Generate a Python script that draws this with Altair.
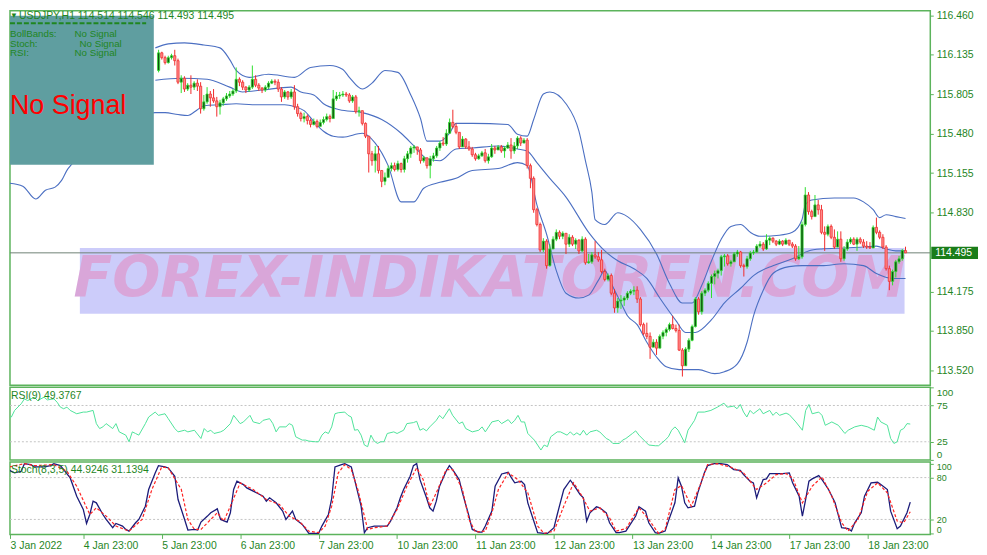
import altair as alt
import pandas as pd

# ---------------- data ----------------
SYMBOL = "USDJPY,H1"
FIRST_BAR = 46          # first candle not hidden by the info box (bar 0 = 3 Jan 23:00)
FIRST_OPEN = 116.005

close = [
    116.151, 116.111, 116.070, 116.111, 116.127, 116.086, 115.908, 115.940, 115.851, 115.883,
    115.867, 115.900, 115.875, 115.688, 115.745, 115.810, 115.778, 115.753, 115.705, 115.737,
    115.770, 115.794, 115.810, 115.835, 115.932, 115.908, 115.867, 115.843, 115.867, 115.932,
    115.883, 115.859, 115.843, 115.867, 115.900, 115.916, 115.908, 115.851, 115.786, 115.827,
    115.786, 115.827, 115.705, 115.648, 115.607, 115.623, 115.591, 115.558, 115.583, 115.542,
    115.575, 115.599, 115.623, 115.607, 115.770, 115.794, 115.802, 115.810, 115.802, 115.753,
    115.786, 115.664, 115.672, 115.567, 115.461, 115.315, 115.258, 115.315, 115.177, 115.087,
    115.120, 115.193, 115.217, 115.185, 115.234, 115.185, 115.274, 115.315, 115.363, 115.372,
    115.347, 115.258, 115.282, 115.217, 115.274, 115.298, 115.363, 115.404, 115.396, 115.485,
    115.575, 115.542, 115.493, 115.372, 115.437, 115.372, 115.355, 115.307, 115.274, 115.298,
    115.323, 115.258, 115.290, 115.363, 115.347, 115.372, 115.339, 115.363, 115.388, 115.339,
    115.380, 115.445, 115.404, 115.428, 115.217, 115.112, 114.852, 114.730, 114.519, 114.592,
    114.389, 114.527, 114.608, 114.665, 114.632, 114.657, 114.567, 114.624, 114.567, 114.600,
    114.511, 114.608, 114.413, 114.421, 114.478, 114.462, 114.437, 114.340, 114.275, 114.307,
    114.161, 114.039, 114.096, 114.104, 114.121, 114.161, 114.178, 114.186, 114.113, 113.901,
    113.828, 113.804, 113.714, 113.755, 113.706, 113.804, 113.836, 113.861, 113.901, 113.869,
    113.853, 113.690, 113.560, 113.698, 113.771, 113.885, 114.113, 114.007, 114.161, 114.186,
    114.242, 114.299, 114.324, 114.348, 114.462, 114.470, 114.405, 114.421, 114.486, 114.502,
    114.389, 114.381, 114.446, 114.494, 114.502, 114.551, 114.567, 114.527, 114.600, 114.616,
    114.592, 114.567, 114.592, 114.567, 114.600, 114.567, 114.551, 114.446, 114.462, 114.730,
    114.974, 114.836, 114.795, 114.892, 114.852, 114.665, 114.649, 114.714, 114.624, 114.543,
    114.608, 114.446, 114.527, 114.584, 114.608, 114.567, 114.608, 114.584, 114.551, 114.543,
    114.535, 114.706, 114.665, 114.624, 114.543, 114.364, 114.259, 114.340, 114.421, 114.446,
    114.514, 114.495,
]
high = [
    116.176, 116.160, 116.127, 116.127, 116.143, 116.176, 116.103, 115.965, 115.957, 115.900,
    115.965, 115.916, 115.932, 115.908, 115.802, 115.867, 115.835, 115.851, 115.786, 115.762,
    115.786, 115.818, 115.835, 115.851, 116.030, 115.948, 115.924, 115.875, 115.883, 116.046,
    115.965, 115.900, 115.867, 115.883, 115.916, 115.932, 115.932, 115.932, 115.867, 115.843,
    115.835, 115.851, 115.883, 115.729, 115.664, 115.656, 115.640, 115.607, 115.607, 115.599,
    115.599, 115.623, 115.648, 115.640, 115.843, 115.827, 115.827, 115.835, 115.827, 115.818,
    115.802, 115.802, 115.705, 115.672, 115.575, 115.461, 115.339, 115.380, 115.380, 115.177,
    115.160, 115.217, 115.242, 115.242, 115.258, 115.242, 115.298, 115.339, 115.380, 115.388,
    115.372, 115.363, 115.298, 115.282, 115.298, 115.323, 115.380, 115.420, 115.453, 115.518,
    115.607, 115.680, 115.567, 115.477, 115.461, 115.445, 115.420, 115.372, 115.323, 115.315,
    115.339, 115.355, 115.315, 115.396, 115.380, 115.388, 115.388, 115.380, 115.412, 115.445,
    115.412, 115.461, 115.461, 115.445, 115.445, 115.234, 115.128, 114.868, 114.746, 114.616,
    114.608, 114.567, 114.632, 114.689, 114.681, 114.673, 114.649, 114.649, 114.641, 114.616,
    114.608, 114.632, 114.624, 114.486, 114.502, 114.592, 114.502, 114.519, 114.364, 114.324,
    114.324, 114.194, 114.121, 114.145, 114.137, 114.178, 114.194, 114.218, 114.218, 114.129,
    113.917, 113.917, 113.836, 113.780, 113.780, 113.820, 113.853, 113.877, 113.917, 113.974,
    113.901, 113.901, 113.706, 113.714, 113.788, 113.901, 114.129, 114.129, 114.178, 114.202,
    114.259, 114.316, 114.348, 114.364, 114.478, 114.486, 114.486, 114.437, 114.502, 114.519,
    114.511, 114.405, 114.470, 114.511, 114.519, 114.567, 114.592, 114.584, 114.649, 114.632,
    114.624, 114.600, 114.608, 114.600, 114.616, 114.600, 114.584, 114.567, 114.551, 114.754,
    115.039, 114.998, 114.852, 114.974, 114.933, 114.892, 114.714, 114.730, 114.730, 114.689,
    114.673, 114.673, 114.551, 114.608, 114.624, 114.624, 114.624, 114.624, 114.608, 114.592,
    114.584, 114.722, 114.787, 114.681, 114.649, 114.559, 114.389, 114.356, 114.437, 114.470,
    114.527, 114.546,
]
low = [
    115.989, 116.095, 116.054, 116.062, 116.095, 116.046, 115.892, 115.818, 115.827, 115.835,
    115.810, 115.843, 115.835, 115.648, 115.672, 115.729, 115.705, 115.737, 115.623, 115.640,
    115.713, 115.753, 115.778, 115.794, 115.818, 115.875, 115.843, 115.818, 115.827, 115.851,
    115.867, 115.835, 115.818, 115.827, 115.851, 115.892, 115.883, 115.827, 115.745, 115.770,
    115.762, 115.770, 115.680, 115.623, 115.583, 115.575, 115.558, 115.534, 115.550, 115.526,
    115.542, 115.558, 115.583, 115.575, 115.607, 115.753, 115.770, 115.786, 115.786, 115.737,
    115.737, 115.648, 115.623, 115.550, 115.445, 115.160, 115.217, 115.160, 115.152, 115.039,
    115.055, 115.136, 115.169, 115.169, 115.169, 115.160, 115.160, 115.242, 115.282, 115.323,
    115.307, 115.234, 115.242, 115.193, 115.112, 115.250, 115.282, 115.339, 115.380, 115.380,
    115.485, 115.526, 115.477, 115.355, 115.372, 115.355, 115.339, 115.290, 115.258, 115.266,
    115.290, 115.242, 115.234, 115.282, 115.315, 115.347, 115.323, 115.282, 115.355, 115.274,
    115.315, 115.355, 115.380, 115.404, 115.193, 115.030, 114.827, 114.714, 114.502, 114.502,
    114.364, 114.381, 114.527, 114.592, 114.608, 114.608, 114.486, 114.543, 114.551, 114.527,
    114.486, 114.502, 114.397, 114.405, 114.405, 114.446, 114.421, 114.324, 114.259, 114.259,
    114.145, 113.999, 113.999, 114.031, 114.056, 114.104, 114.145, 114.145, 114.080, 113.885,
    113.812, 113.780, 113.617, 113.714, 113.650, 113.706, 113.780, 113.804, 113.845, 113.861,
    113.836, 113.682, 113.471, 113.576, 113.674, 113.763, 113.877, 113.983, 113.983, 114.137,
    114.169, 114.121, 114.234, 114.283, 114.307, 114.381, 114.389, 114.381, 114.421, 114.462,
    114.372, 114.299, 114.364, 114.429, 114.478, 114.494, 114.535, 114.511, 114.519, 114.559,
    114.576, 114.551, 114.559, 114.551, 114.567, 114.551, 114.535, 114.429, 114.437, 114.446,
    114.714, 114.811, 114.771, 114.795, 114.811, 114.649, 114.511, 114.632, 114.608, 114.527,
    114.584, 114.421, 114.429, 114.511, 114.567, 114.559, 114.511, 114.567, 114.535, 114.527,
    114.527, 114.543, 114.649, 114.608, 114.527, 114.348, 114.186, 114.226, 114.291, 114.405,
    114.429, 114.493,
]

upper_band = [
    (45, 116.192), (49, 116.225), (54, 116.233), (60, 116.216), (65, 116.192), (68, 116.095),
    (70, 116.005), (74, 115.948), (80, 115.973), (88, 115.948), (93, 116.030), (99, 116.046),
    (103, 116.013), (105, 115.948), (109, 115.851), (112, 115.900), (116, 116.005), (120, 115.989),
    (124, 115.802), (127, 115.607), (129, 115.420), (133, 115.420), (136, 115.485), (138, 115.567),
    (143, 115.567), (154, 115.558), (157, 115.477), (160, 115.461), (162, 115.599), (165, 115.810),
    (167, 115.827), (172, 115.729), (176, 115.502), (178, 115.258), (180, 114.998), (181, 114.771),
    (184, 114.730), (188, 114.827), (191, 114.795), (195, 114.689), (200, 114.486), (204, 114.242),
    (208, 114.080), (211, 114.080), (214, 114.226), (217, 114.429), (220, 114.608), (223, 114.714),
    (226, 114.730), (229, 114.665), (232, 114.632), (238, 114.641), (242, 114.665), (245, 114.771),
    (246, 114.892), (248, 114.933), (255, 114.949), (261, 114.949), (264, 114.917), (267, 114.852),
    (269, 114.787), (271, 114.811), (274, 114.795), (277, 114.779),
]
middle_band = [
    (45, 115.924), (53, 115.940), (61, 115.932), (68, 115.867), (72, 115.827), (78, 115.843),
    (87, 115.867), (90, 115.827), (94, 115.802), (97, 115.729), (102, 115.680), (109, 115.656),
    (115, 115.599), (121, 115.485), (125, 115.380), (129, 115.274), (133, 115.258), (138, 115.355),
    (143, 115.363), (151, 115.380), (157, 115.355), (160, 115.339), (163, 115.242), (167, 115.112),
    (172, 114.957), (179, 114.665), (184, 114.511), (188, 114.429), (193, 114.364), (197, 114.283),
    (201, 114.121), (206, 113.934), (209, 113.836), (212, 113.836), (217, 113.942), (221, 114.080),
    (226, 114.202), (230, 114.307), (236, 114.389), (242, 114.446), (247, 114.511), (251, 114.527),
    (258, 114.535), (264, 114.543), (268, 114.551), (271, 114.527), (274, 114.511), (277, 114.511),
]
lower_band = [
    (0, 115.071), (4, 115.047), (8, 114.941), (11, 115.014), (14, 115.039), (16, 115.095),
    (18, 115.193), (45, 115.656), (48, 115.656), (52, 115.640), (55, 115.632), (58, 115.680),
    (60, 115.713), (65, 115.721), (70, 115.729), (75, 115.721), (80, 115.721), (85, 115.721),
    (88, 115.705), (91, 115.672), (94, 115.583), (97, 115.502), (100, 115.461), (103, 115.453),
    (109, 115.485), (113, 115.404), (117, 115.217), (121, 114.917), (125, 114.917), (128, 115.030),
    (133, 115.079), (138, 115.112), (143, 115.177), (151, 115.193), (157, 115.242), (160, 115.217),
    (163, 114.892), (166, 114.649), (169, 114.348), (172, 114.161), (176, 114.121), (179, 114.145),
    (182, 114.267), (184, 114.348), (186, 114.242), (189, 114.080), (191, 113.974), (194, 113.901),
    (197, 113.755), (200, 113.633), (203, 113.552), (207, 113.528), (213, 113.528), (218, 113.495),
    (221, 113.511), (225, 113.576), (228, 113.755), (230, 113.974), (233, 114.186), (236, 114.324),
    (241, 114.381), (245, 114.389), (251, 114.389), (258, 114.405), (264, 114.389), (268, 114.324),
    (273, 114.283), (277, 114.283),
]

rsi_points = [
    (0, 56.8), (2, 59.1), (3, 68.2), (5, 77.3), (6, 84.1), (7, 81.8), (9, 86.4), (10, 81.8), (12, 86.4), (13, 82.7),
    (15, 84.1), (16, 79.5), (17, 72.7), (18, 70.5), (19, 72.7), (20, 68.2), (22, 63.6), (24, 65.9), (25, 65.9), (27, 68.2),
    (28, 50.0), (29, 43.2), (30, 45.5), (31, 50.0), (33, 43.2), (34, 50.0), (35, 38.6), (37, 34.1), (38, 25.0), (39, 38.6),
    (40, 36.4), (41, 34.1), (43, 50.0), (44, 59.1), (46, 65.9), (47, 61.4), (49, 63.6), (50, 56.8), (52, 43.2), (53, 38.6),
    (55, 40.9), (56, 38.6), (58, 40.9), (60, 29.5), (61, 43.2), (62, 38.6), (63, 40.9), (64, 36.4), (66, 38.6), (67, 40.9),
    (69, 50.0), (70, 61.4), (72, 50.0), (73, 52.3), (75, 61.4), (76, 52.3), (78, 50.0), (79, 54.5), (81, 56.8), (82, 50.0),
    (83, 38.6), (84, 45.5), (86, 45.5), (87, 50.0), (88, 47.7), (89, 31.8), (91, 27.3), (92, 27.3), (93, 25.9), (95, 25.0),
    (96, 25.0), (97, 34.1), (98, 38.6), (99, 36.4), (100, 45.5), (101, 63.6), (102, 65.0), (104, 65.9), (105, 61.4), (106, 59.1),
    (107, 40.9), (108, 41.8), (109, 34.1), (110, 20.5), (111, 18.2), (112, 34.1), (113, 25.9), (114, 22.7), (115, 25.0), (116, 25.0),
    (117, 36.4), (119, 38.6), (120, 36.4), (122, 40.9), (123, 50.0), (125, 51.4), (126, 53.2), (127, 40.9), (128, 43.2), (129, 40.0),
    (130, 45.5), (132, 54.5), (133, 61.4), (134, 56.8), (136, 70.5), (137, 61.4), (139, 50.0), (140, 52.3), (141, 43.2), (143, 38.6),
    (145, 40.9), (146, 45.5), (147, 38.6), (149, 52.3), (151, 54.5), (152, 50.0), (154, 55.5), (155, 50.0), (156, 54.5), (157, 61.4),
    (158, 52.3), (159, 52.3), (160, 36.4), (162, 27.3), (163, 20.5), (164, 13.6), (165, 20.5), (166, 18.2), (167, 31.8), (169, 38.6),
    (170, 38.6), (172, 34.1), (173, 38.6), (174, 34.1), (175, 37.3), (176, 34.1), (177, 40.9), (178, 34.1), (179, 38.6), (181, 40.9),
    (182, 38.6), (184, 29.5), (185, 27.3), (186, 22.7), (188, 22.7), (189, 27.3), (190, 29.5), (192, 36.4), (193, 40.0), (194, 34.1),
    (196, 25.0), (197, 20.5), (199, 19.5), (200, 19.5), (202, 27.3), (203, 31.8), (204, 40.9), (205, 45.5), (206, 40.9), (208, 23.6),
    (209, 40.9), (211, 54.5), (212, 65.9), (214, 65.9), (216, 68.2), (218, 72.7), (220, 78.2), (221, 72.7), (223, 74.1), (224, 70.5),
    (225, 76.4), (226, 65.9), (227, 59.1), (228, 68.2), (229, 63.6), (231, 70.5), (232, 63.6), (234, 68.2), (235, 61.4), (236, 65.9),
    (237, 61.4), (239, 64.5), (240, 62.3), (242, 52.3), (244, 40.9), (245, 68.2), (246, 76.4), (247, 63.6), (249, 65.9), (250, 61.4),
    (251, 47.7), (253, 52.3), (255, 47.7), (257, 36.4), (258, 40.9), (260, 45.5), (262, 47.7), (264, 45.5), (266, 40.9), (267, 59.1),
    (268, 52.3), (270, 47.7), (271, 29.5), (272, 22.7), (273, 25.0), (274, 40.9), (275, 43.2), (276, 50.0), (277, 49.4),
]
stoch_main = [
    (0, 93.8), (2, 89.0), (3, 86.7), (5, 89.0), (6, 100.0), (8, 98.6), (9, 95.2), (11, 95.2), (12, 95.2), (14, 97.1),
    (15, 100.0), (17, 97.1), (18, 91.4), (20, 79.5), (22, 53.3), (24, 34.3), (25, 14.3), (26, 27.1), (27, 46.2), (28, 43.8),
    (30, 27.1), (31, 20.0), (33, 8.1), (34, 14.3), (36, 10.5), (37, 5.7), (38, 3.3), (40, 15.2), (41, 20.0), (43, 39.0),
    (44, 62.9), (46, 86.7), (47, 97.1), (49, 95.2), (50, 93.8), (52, 81.9), (53, 48.6), (55, 20.0), (56, 4.8), (58, 5.7),
    (59, 4.8), (60, 16.2), (62, 24.8), (63, 29.5), (65, 35.2), (66, 20.0), (68, 16.2), (69, 29.5), (70, 62.9), (71, 74.8),
    (73, 70.0), (74, 65.2), (76, 60.5), (78, 55.7), (79, 53.3), (80, 46.2), (81, 51.0), (83, 43.8), (85, 31.9), (86, 20.0),
    (88, 31.9), (89, 20.0), (91, 12.9), (93, 0.0), (94, 0.0), (96, 0.0), (97, 10.5), (99, 27.1), (100, 50.0), (101, 95.2),
    (103, 98.6), (104, 100.0), (106, 95.2), (107, 77.1), (109, 39.0), (110, 1.0), (111, 8.1), (113, 10.5), (117, 10.5), (118, 17.6),
    (120, 36.7), (121, 51.0), (122, 62.9), (124, 81.9), (125, 97.1), (126, 100.0), (127, 77.1), (129, 51.0), (130, 36.7), (131, 31.9),
    (132, 46.2), (133, 67.6), (135, 89.0), (136, 97.1), (137, 91.4), (139, 77.1), (140, 58.1), (142, 24.8), (143, 5.7), (145, 1.9),
    (146, 1.9), (147, 10.5), (149, 31.9), (150, 67.6), (152, 85.2), (154, 87.6), (155, 79.5), (156, 72.4), (158, 74.8), (159, 70.0),
    (160, 43.8), (162, 15.2), (163, 1.0), (165, 0.0), (166, 0.0), (168, 8.1), (169, 27.1), (171, 62.9), (173, 76.2), (174, 70.0),
    (176, 55.7), (177, 51.0), (178, 17.6), (179, 29.5), (181, 38.1), (182, 36.7), (184, 29.5), (185, 15.2), (187, 1.0), (188, 1.0),
    (190, 3.3), (191, 10.5), (193, 24.8), (194, 38.1), (196, 31.9), (197, 15.2), (199, 1.0), (200, 0.0), (202, 3.3), (203, 17.6),
    (205, 43.8), (206, 79.5), (207, 67.6), (208, 43.8), (209, 36.7), (211, 39.0), (212, 58.1), (214, 86.7), (215, 97.1), (217, 100.0),
    (219, 100.0), (221, 98.6), (223, 91.4), (225, 90.5), (226, 84.3), (228, 74.8), (229, 72.4), (230, 51.0), (231, 65.2), (232, 77.1),
    (233, 78.1), (234, 85.7), (236, 85.7), (238, 85.7), (240, 86.7), (241, 72.4), (243, 53.3), (244, 24.8), (245, 48.6), (246, 74.8),
    (247, 78.1), (249, 82.9), (250, 77.1), (252, 62.9), (254, 43.8), (256, 8.1), (258, 6.7), (259, 3.3), (260, 15.2), (262, 29.5),
    (263, 53.3), (265, 72.4), (267, 73.3), (268, 70.0), (270, 62.9), (271, 31.9), (273, 6.7), (274, 10.5), (276, 29.5), (277, 44.9),
]
stoch_signal = [
    (0, 93.8), (6, 100.0), (9, 97.1), (15, 98.6), (19, 89.0), (22, 67.6), (26, 27.1), (28, 36.7), (31, 24.8), (34, 10.5),
    (38, 3.3), (42, 20.0), (45, 62.9), (48, 95.2), (50, 93.8), (54, 62.9), (56, 20.0), (58, 5.7), (60, 5.7), (63, 20.0),
    (65, 29.5), (67, 17.6), (69, 39.0), (72, 72.4), (76, 62.9), (80, 48.6), (84, 41.4), (87, 24.8), (90, 17.6), (93, 3.3),
    (96, 1.0), (98, 10.5), (100, 39.0), (102, 86.7), (104, 98.6), (106, 91.4), (108, 62.9), (110, 24.8), (111, 5.7), (113, 8.1),
    (117, 10.5), (120, 34.3), (123, 67.6), (126, 93.8), (128, 77.1), (130, 39.0), (132, 58.1), (135, 91.4), (137, 91.4), (140, 62.9),
    (142, 20.0), (144, 1.9), (147, 3.3), (149, 29.5), (151, 62.9), (154, 86.7), (157, 77.1), (160, 58.1), (163, 10.5), (165, 0.0),
    (168, 3.3), (171, 39.0), (174, 72.4), (176, 58.1), (179, 31.9), (182, 36.7), (185, 22.4), (187, 3.3), (190, 6.7), (194, 36.7),
    (197, 20.0), (200, 0.0), (202, 5.7), (205, 62.9), (207, 68.6), (210, 39.0), (213, 72.4), (215, 98.6), (218, 100.0), (222, 95.2),
    (226, 86.7), (230, 62.9), (233, 72.4), (236, 84.3), (239, 85.7), (241, 79.5), (244, 43.8), (247, 67.6), (250, 81.0), (253, 53.3),
    (256, 15.2), (258, 3.3), (261, 20.0), (264, 60.5), (267, 72.4), (270, 58.1), (273, 17.6), (275, 15.2), (277, 31.1),
]

rsi_header_value = 49.3767
stoch_header_values = (44.9246, 31.1394)
last_price = 114.495
price_ticks = [116.460, 116.135, 115.805, 115.480, 115.155, 114.830, 114.175, 113.850, 113.520]
rsi_ticks = [0, 25, 75, 100]
rsi_levels = [25, 75]
stoch_ticks = [0, 20, 80, 100]
stoch_levels = [20, 80]
first_time_label = "3 Jan 2022"
time_tick_bars = [24, 48, 72, 96, 120, 144, 168, 192, 216, 240, 264]
time_tick_labels = ["4 Jan 23:00", "5 Jan 23:00", "6 Jan 23:00", "7 Jan 23:00", "10 Jan 23:00",
                    "11 Jan 23:00", "12 Jan 23:00", "13 Jan 23:00", "14 Jan 23:00",
                    "17 Jan 23:00", "18 Jan 23:00"]
signal_rows = [("BollBands:", "No Signal"), ("Stoch:", "No Signal"), ("RSI:", "No Signal")]
watermark = "FOREX-INDIKATOREN.COM"

assert len(close) == len(high) == len(low)

# ---------------- layout / style ----------------
W = 926
H_MAIN = 377
H_IND = 73
X_DOMAIN = [1.58, 283.13]
Y_MAIN = [113.398, 116.50]
FONT = "Liberation Sans"
GREEN_TXT = "#1f861f"
FRAME = "#5cb35c"
BAND = "#4b6fc2"
BULL_WICK, BEAR_WICK = "#2ee02e", "#f02a2a"
BULL_FILL, BEAR_FILL = "#0d4f0d", "#ff8a8a"
BULL_LINE, BEAR_LINE = "#33dd33", "#f03030"

ONE = pd.DataFrame({"k": [0]})

# ---------------- frames ----------------
opens = [FIRST_OPEN] + close[:-1]
candles = pd.DataFrame({
    "bar": list(range(FIRST_BAR, FIRST_BAR + len(close))),
    "open": opens, "close": close, "high": high, "low": low,
})
candles["dir"] = ["up" if c >= o else "down" for o, c in zip(opens, close)]
candles["wlo"] = candles[["low", "open", "close"]].min(axis=1)
candles["whi"] = candles[["high", "open", "close"]].max(axis=1)

bands = pd.concat([
    pd.DataFrame(upper_band, columns=["bar", "v"]).assign(band="upper"),
    pd.DataFrame(middle_band, columns=["bar", "v"]).assign(band="middle"),
    pd.DataFrame(lower_band, columns=["bar", "v"]).assign(band="lower"),
])
rsi_df = pd.DataFrame(rsi_points, columns=["bar", "v"])
st_main_df = pd.DataFrame(stoch_main, columns=["bar", "v"])
st_sig_df = pd.DataFrame(stoch_signal, columns=["bar", "v"])

xscale = alt.Scale(domain=X_DOMAIN, nice=False, zero=False)
label_expr = ("datum.value < 2 ? '" + first_time_label + "' : ["
              + ",".join("'" + s + "'" for s in time_tick_labels)
              + "][round(datum.value / 24) - 1]")
x_axis = alt.Axis(values=[X_DOMAIN[0]] + time_tick_bars, labelExpr=label_expr,
                  labelAlign="left", labelBaseline="top", labelPadding=2,
                  tickSize=4, tickColor=FRAME, labelColor=GREEN_TXT, domain=False,
                  grid=False, labelFont=FONT, labelFontSize=10.5, labelOverlap=False,
                  labelFlush=False, title=None)


def X(field, axis=None):
    return alt.X(f"{field}:Q", scale=xscale, axis=axis, title=None)


main_axis = alt.Axis(orient="right", values=price_ticks, format=".3f", domain=False,
                     grid=False, tickSize=3, tickColor=FRAME, labelColor=GREEN_TXT,
                     labelFont=FONT, labelFontSize=10.5, labelPadding=3, labelOverlap=False,
                     title=None)


def YM(field):
    return alt.Y(f"{field}:Q", scale=alt.Scale(domain=Y_MAIN, nice=False, zero=False),
                 axis=main_axis, title=None)


def txt(text, x, y, size=10.0, color=GREEN_TXT, **kw):
    return alt.Chart(ONE).mark_text(text=text, align="left", baseline="middle", font=FONT,
                                    fontSize=size, color=color, **kw).encode(
        x=alt.value(x), y=alt.value(y))


# ---------------- main panel ----------------
wm_rect = alt.Chart(pd.DataFrame({"x0": [21.65], "x1": [276.7], "y0": [113.990], "y1": [114.535]})
                    ).mark_rect(color="#ccccfa").encode(x=X("x0"), x2="x1", y=YM("y0"), y2="y1")
wm_text = alt.Chart(pd.DataFrame({"x": [148.4], "y": [114.267], "t": [watermark]})).mark_text(
    font="DejaVu Sans", fontSize=57, fontWeight="bold", fontStyle="italic", color="#d9a6d9",
    align="center", baseline="middle").encode(x=X("x"), y=YM("y"), text="t:N")

band_lines = alt.Chart(bands).mark_line(color=BAND, strokeWidth=1.1, interpolate="monotone",
                                        clip=True).encode(x=X("bar"), y=YM("v"), detail="band:N")
price_line = alt.Chart(pd.DataFrame({"p": [last_price]})).mark_rule(
    color="#6f8275", strokeWidth=1).encode(y=YM("p"))
wicks = alt.Chart(candles).mark_rule(strokeWidth=1).encode(
    x=X("bar"), y=YM("wlo"), y2="whi",
    color=alt.Color("dir:N", scale=alt.Scale(domain=["up", "down"], range=[BULL_WICK, BEAR_WICK]),
                    legend=None))
bodies = alt.Chart(candles).mark_bar(width=2.2, strokeWidth=0.8).encode(
    x=X("bar"), y=YM("open"), y2="close",
    fill=alt.Fill("dir:N", scale=alt.Scale(domain=["up", "down"], range=[BULL_FILL, BEAR_FILL]),
                  legend=None),
    stroke=alt.Stroke("dir:N", scale=alt.Scale(domain=["up", "down"], range=[BULL_LINE, BEAR_LINE]),
                      legend=None))

box = alt.Chart(ONE).mark_rect(color="#5f9ea0").encode(
    x=alt.value(0), x2=alt.value(144.7), y=alt.value(5), y2=alt.value(155))
dash = alt.Chart(ONE).mark_rule(color=GREEN_TXT, strokeWidth=2, strokeDash=[5, 2]).encode(
    x=alt.value(0), x2=alt.value(137), y=alt.value(12.7))
info = []
for i, (name, state) in enumerate(signal_rows):
    yy = 23.7 + i * 9.5
    info.append(txt(name, 0, yy, size=9.8))
    info.append(txt(state, 70 if name == "Stoch:" else 65, yy, size=9.8))
big = txt("No Signal", 0, 96, size=27, color="#ff0000")
tri = txt("\u25bc", 0, 5.5, size=8)
title_text = f"{SYMBOL} {opens[-1]:.3f} {high[-1]:.3f} {low[-1]:.3f} {close[-1]:.3f}"
title = txt(title_text, 9, 5.5, size=10.5)

tag_df = pd.DataFrame({"p": [last_price], "p0": [last_price - 0.05], "p1": [last_price + 0.05]})
tag_rect = alt.Chart(tag_df).mark_rect(color="#1a7d1a").encode(
    x=alt.value(W + 1), x2=alt.value(W + 48), y=YM("p0"), y2="p1")
tag_text = alt.Chart(tag_df).mark_text(text=f"{last_price:.3f}", color="white", align="left",
                                       baseline="middle", font=FONT, fontSize=10.5).encode(
    x=alt.value(W + 5), y=YM("p"))

main = alt.layer(wm_rect, wm_text, band_lines, price_line, wicks, bodies, box, dash, *info,
                 big, tri, title, tag_rect, tag_text).properties(width=W, height=H_MAIN)

# ---------------- RSI panel ----------------
rsi_axis = alt.Axis(orient="right", values=rsi_ticks, labelFlush=3, domain=False, grid=False,
                    tickSize=3, tickColor=FRAME, labelColor=GREEN_TXT, labelFont=FONT,
                    labelFontSize=10, labelPadding=3, labelOverlap=False, title=None)


def YR(field):
    return alt.Y(f"{field}:Q", scale=alt.Scale(domain=[0, 100], nice=False), axis=rsi_axis, title=None)


rsi_lv = alt.Chart(pd.DataFrame({"v": rsi_levels})).mark_rule(
    color="#c4c4c4", strokeDash=[2, 2]).encode(y=YR("v"))
rsi_line = alt.Chart(rsi_df).mark_line(color="#4fe39a", strokeWidth=1, clip=True).encode(
    x=X("bar"), y=YR("v"))
rsi_hdr = txt(f"RSI(9) {rsi_header_value}", 1, 9, size=10.5)
rsi = alt.layer(rsi_lv, rsi_line, rsi_hdr).properties(width=W, height=H_IND)

# ---------------- Stochastic panel ----------------
st_axis = alt.Axis(orient="right", values=stoch_ticks, labelFlush=3, labelFlushOffset=1.5,
                   domain=False, grid=False, tickSize=3, tickColor=FRAME, labelColor=GREEN_TXT,
                   labelFont=FONT, labelFontSize=9, labelPadding=3, labelOverlap=False, title=None)


def YS(field):
    return alt.Y(f"{field}:Q", scale=alt.Scale(domain=[-1.5, 102.5], nice=False, zero=False),
                 axis=st_axis, title=None)


st_lv = alt.Chart(pd.DataFrame({"v": stoch_levels})).mark_rule(
    color="#c4c4c4", strokeDash=[2, 2]).encode(y=YS("v"))
st_main = alt.Chart(st_main_df).mark_line(color="#1c1c7a", strokeWidth=1.3, clip=True).encode(
    x=X("bar", x_axis), y=YS("v"))
st_sig = alt.Chart(st_sig_df).mark_line(color="#ff2222", strokeWidth=1.2, strokeDash=[3, 2],
                                        clip=True).encode(x=X("bar", x_axis), y=YS("v"))
st_hdr = txt(f"Stoch(8,3,5) {stoch_header_values[0]} {stoch_header_values[1]}", 1, 8, size=10.5)
stoch = alt.layer(st_lv, st_main, st_sig, st_hdr).properties(width=W, height=H_IND)

chart = alt.vconcat(main, rsi, stoch, spacing=2, bounds="flush").properties(
    padding={"left": 0, "top": 0, "right": 0, "bottom": 0}, background="white"
).configure_view(stroke=FRAME, strokeWidth=1.5)

chart.save("out.html", embed_options={"renderer": "svg", "actions": False})
